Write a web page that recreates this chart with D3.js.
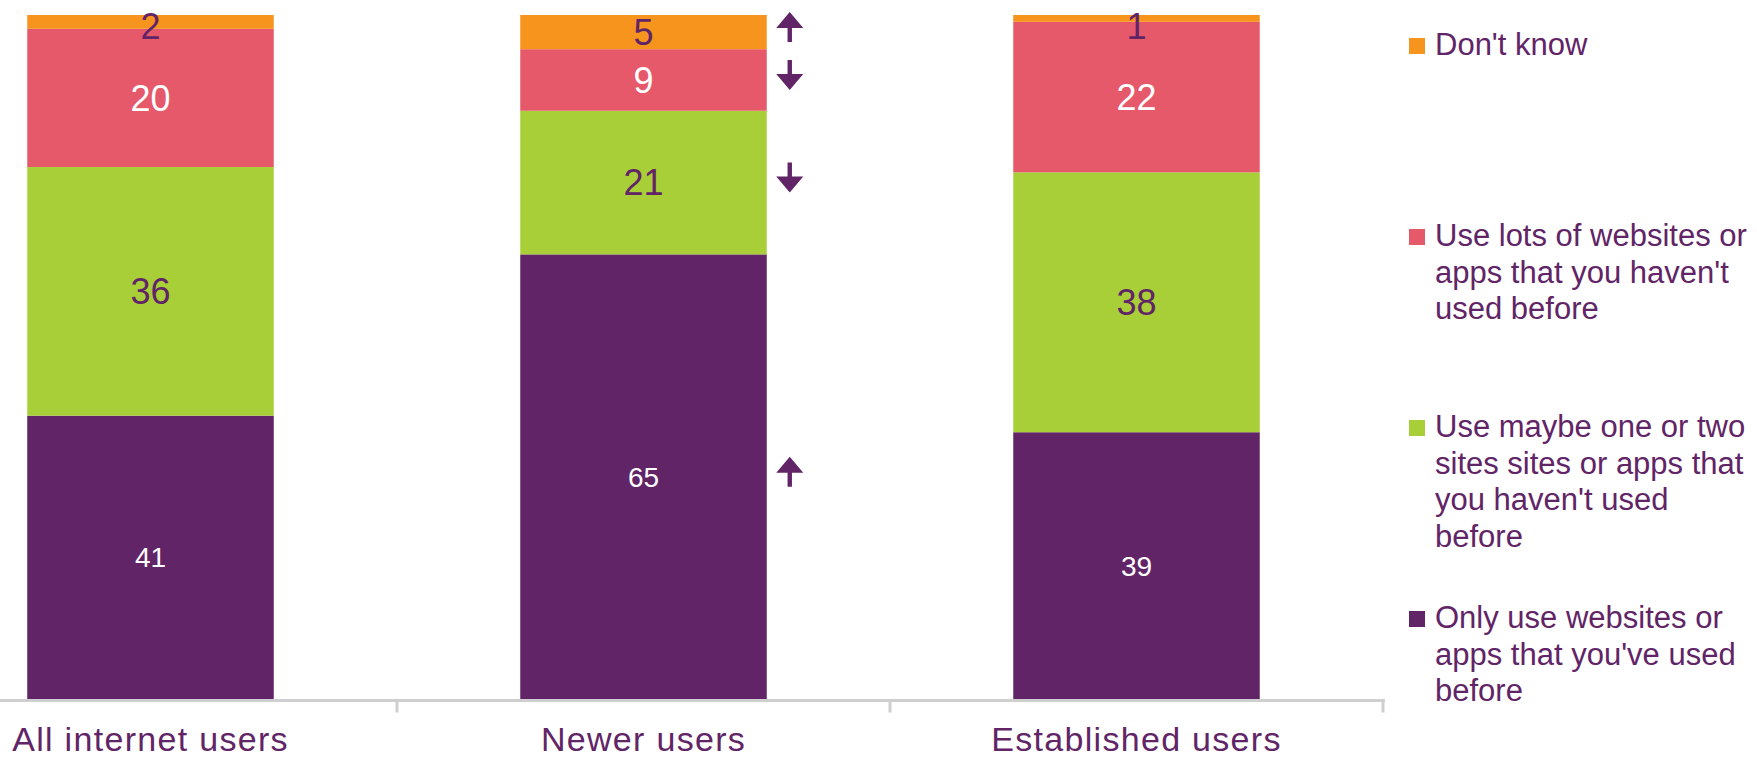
<!DOCTYPE html>
<html>
<head>
<meta charset="utf-8">
<script src="https://cdn.jsdelivr.net/npm/d3@7"></script>
<style>
  body { margin: 0; background: #fff; }
  text { font-family: "Liberation Sans", Arial, sans-serif; }
</style>
</head>
<body>
<script>
// Chart data
var categories = ["All internet users", "Newer users", "Established users"];
var seriesKeys = ["only", "maybe", "lots", "dontknow"];
var onlyValues = [41, 65, 39];
var maybeValues = [36, 21, 38];
var lotsValues = [20, 9, 22];
var dontKnowValues = [2, 5, 1];
var legendLabels = [
  ["Don't know"],
  ["Use lots of websites or", "apps that you haven't", "used before"],
  ["Use maybe one or two", "sites sites or apps that", "you haven't used", "before"],
  ["Only use websites or", "apps that you've used", "before"]
];
// significance arrows shown next to "Newer users"
var arrowCategory = "Newer users";
var arrowDirections = { only: "up", maybe: "down", lots: "down", dontknow: "up" };

var colors = { only: "#612466", maybe: "#A8CF38", lots: "#E6596A", dontknow: "#F7941E" };
var labelColors = { only: "#ffffff", maybe: "#612466", lots: "#ffffff", dontknow: "#612466" };
var labelSizes = { only: 28, maybe: 36, lots: 36, dontknow: 36 };
var textColor = "#612466";

var svgWidth = 1757, svgHeight = 760;

var svg = d3.select("body")
  .append("svg")
  .attr("width", svgWidth)
  .attr("height", svgHeight);

// build rows for the stack
var rows = categories.map(function(c, i) {
  return { category: c, only: onlyValues[i], maybe: maybeValues[i], lots: lotsValues[i], dontknow: dontKnowValues[i] };
});

var stacked = d3.stack()
  .keys(seriesKeys)
  .offset(d3.stackOffsetExpand)(rows);

var xBandScale = d3.scaleBand()
  .domain(categories)
  .range([-96, 1383])
  .paddingInner(0.5)
  .paddingOuter(0.25);

var yLinearScale = d3.scaleLinear()
  .domain([0, 1])
  .range([699, 15]);

var chartGroup = svg.append("g");

// bars
chartGroup.selectAll("g.series")
  .data(stacked)
  .enter()
  .append("g")
  .attr("class", "series")
  .attr("fill", d => colors[d.key])
  .selectAll("rect")
  .data(d => d)
  .enter()
  .append("rect")
  .attr("x", d => xBandScale(d.data.category))
  .attr("width", xBandScale.bandwidth())
  .attr("y", d => yLinearScale(d[1]))
  .attr("height", d => yLinearScale(d[0]) - yLinearScale(d[1]));

// value labels
stacked.forEach(function(s) {
  chartGroup.selectAll(null)
    .data(s)
    .enter()
    .append("text")
    .attr("x", d => xBandScale(d.data.category) + xBandScale.bandwidth() / 2)
    .attr("y", function(d) {
      var mid = Math.max((yLinearScale(d[0]) + yLinearScale(d[1])) / 2, 26);
      return mid + 0.358 * labelSizes[s.key];
    })
    .attr("text-anchor", "middle")
    .attr("fill", labelColors[s.key])
    .style("font-size", labelSizes[s.key] + "px")
    .text(d => d.data[s.key]);
});

// arrows next to newer users
var arrowX = xBandScale(arrowCategory) + xBandScale.bandwidth() + 23;
stacked.forEach(function(s) {
  var d = s.find(p => p.data.category === arrowCategory);
  var cy = (yLinearScale(d[0]) + yLinearScale(d[1])) / 2 - 5;
  var dir = arrowDirections[s.key] === "up" ? -1 : 1;
  // arrow 30px tall: head 27 wide, 16 tall; stem 4 wide
  var tip = cy + dir * 15, base = cy - dir * 15, headBase = tip - dir * 16;
  var path = d3.path();
  path.moveTo(arrowX, tip);
  path.lineTo(arrowX + 13.5, headBase);
  path.lineTo(arrowX + 2.2, headBase);
  path.lineTo(arrowX + 2.2, base);
  path.lineTo(arrowX - 2.2, base);
  path.lineTo(arrowX - 2.2, headBase);
  path.lineTo(arrowX - 13.5, headBase);
  path.closePath();
  chartGroup.append("path")
    .attr("d", path.toString())
    .attr("fill", textColor);
});

// x axis line with ticks between categories
var step = xBandScale.step();
var axisY = 700.5;
chartGroup.append("line")
  .attr("x1", 0)
  .attr("x2", 1385)
  .attr("y1", axisY)
  .attr("y2", axisY)
  .attr("stroke", "#cfcfcf")
  .attr("stroke-width", 3);

chartGroup.selectAll(null)
  .data(categories)
  .enter()
  .append("line")
  .attr("x1", d => Math.min(xBandScale(d) + xBandScale.bandwidth() / 2 + step / 2, 1384))
  .attr("x2", d => Math.min(xBandScale(d) + xBandScale.bandwidth() / 2 + step / 2, 1384))
  .attr("y1", axisY)
  .attr("y2", axisY + 12)
  .attr("stroke", "#cfcfcf")
  .attr("stroke-width", 3);

// category labels
chartGroup.selectAll(null)
  .data(categories)
  .enter()
  .append("text")
  .attr("x", d => xBandScale(d) + xBandScale.bandwidth() / 2)
  .attr("y", 751)
  .attr("text-anchor", "middle")
  .attr("fill", textColor)
  .style("font-size", "34px")
  .style("letter-spacing", "1.3px")
  .text(d => d);

// legend (top to bottom: don't know, lots, maybe, only)
var legendKeys = ["dontknow", "lots", "maybe", "only"];
var legendGroup = svg.append("g");
legendKeys.forEach(function(k, i) {
  var baseY = 55 + i * 191;
  legendGroup.append("rect")
    .attr("x", 1409)
    .attr("y", baseY - 17)
    .attr("width", 16)
    .attr("height", 16)
    .attr("fill", colors[k]);
  var t = legendGroup.append("text")
    .attr("x", 1435)
    .attr("y", baseY)
    .attr("fill", textColor)
    .style("font-size", "31px");
  legendLabels[i].forEach(function(line, j) {
    t.append("tspan")
      .attr("x", 1435)
      .attr("dy", j === 0 ? 0 : 36.5)
      .text(line);
  });
});
</script>
</body>
</html>
